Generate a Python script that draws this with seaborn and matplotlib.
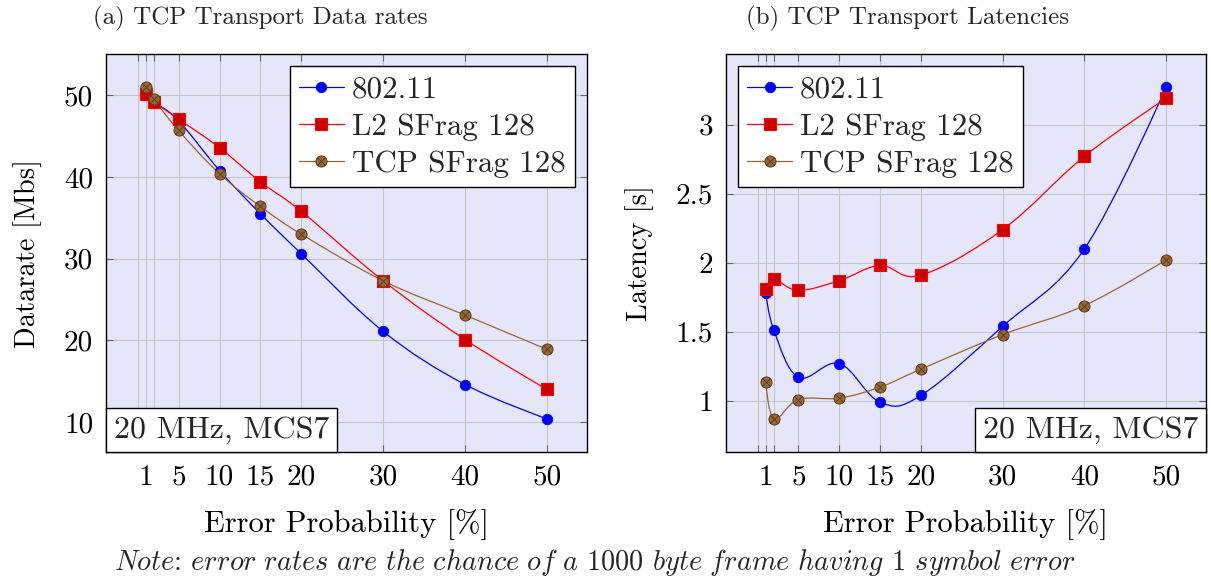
import numpy as np
import pandas as pd
import matplotlib
matplotlib.use('Agg')
import matplotlib.pyplot as plt
import seaborn as sns
from matplotlib.path import Path
from matplotlib.patches import PathPatch
from matplotlib.lines import Line2D
from matplotlib.offsetbox import AnchoredText

# ---------------- data ----------------
error_prob = [1, 2, 5, 10, 15, 20, 30, 40, 50]
series_names = ['802.11', 'L2 SFrag 128', 'TCP SFrag 128']

rate_80211 = [50.1, 49.2, 46.9, 40.8, 35.5, 30.6, 21.1, 14.6, 10.4]
rate_l2 = [50.2, 49.2, 47.1, 43.6, 39.4, 35.8, 27.3, 20.1, 14.0]
rate_tcp = [51.0, 49.5, 45.7, 40.4, 36.4, 33.0, 27.3, 23.1, 18.9]

lat_80211 = [1.78, 1.51, 1.17, 1.27, 0.99, 1.04, 1.54, 2.10, 3.27]
lat_l2 = [1.81, 1.88, 1.80, 1.87, 1.98, 1.91, 2.24, 2.77, 3.19]
lat_tcp = [1.14, 0.87, 1.01, 1.02, 1.10, 1.23, 1.48, 1.69, 2.02]

x_ticks = [0, 1, 2, 5, 10, 15, 20, 30, 40, 50]
x_tick_labels = ['', '1', '', '5', '10', '15', '20', '30', '40', '50']
rate_ticks = [10, 20, 30, 40, 50]
rate_tick_labels = ['10', '20', '30', '40', '50']
lat_ticks = [1, 1.5, 2, 2.5, 3]
lat_tick_labels = ['1', '1.5', '2', '2.5', '3']

titles = ['(a) TCP Transport Data rates', '(b) TCP Transport Latencies']
ylabels = ['Datarate [Mbs]', 'Latency [s]']
xlabel = 'Error Probability [%]'
box_text = '20 MHz, MCS7'

# ---------------- style ----------------
sns.set_theme(style='whitegrid')
plt.rcParams['font.family'] = ['cmr10', 'DejaVu Serif']
plt.rcParams['mathtext.fontset'] = 'cm'
plt.rcParams['axes.formatter.use_mathtext'] = True
plt.rcParams['axes.unicode_minus'] = False

BG = '#E6E6FA'
BLUE = '#0000ff'
RED = '#ff0000'
RED_FILL = '#cc0000'
BROWN = '#996633'
BROWN_EDGE = '#5e3f1f'

circ = Path.unit_circle()
cross = Path([(-0.707, -0.707), (0.707, 0.707), (-0.707, 0.707), (0.707, -0.707)],
             [Path.MOVETO, Path.LINETO, Path.MOVETO, Path.LINETO])
otimes = Path.make_compound_path(circ, cross)

styles = [
    dict(color=BLUE, marker='o', mfc=BLUE, mec=BLUE, ms=7.5, mew=0.6),
    dict(color=RED, marker='s', mfc=RED_FILL, mec=RED, ms=8.0, mew=0.8),
    dict(color=BROWN, marker=otimes, mfc=BROWN, mec=BROWN_EDGE, ms=8.0, mew=0.7),
]


def smooth_patch(xs, ys, color, f=0.18):
    pts = np.column_stack([xs, ys]).astype(float)
    n = len(pts)
    verts = [pts[0]]
    codes = [Path.MOVETO]
    for i in range(n - 1):
        p0, p1 = pts[i], pts[i + 1]
        t0 = np.zeros(2) if i == 0 else pts[i + 1] - pts[i - 1]
        t1 = np.zeros(2) if i + 1 == n - 1 else pts[i + 2] - pts[i]
        verts += [p0 + f * t0, p1 - f * t1, p1]
        codes += [Path.CURVE4] * 3
    return PathPatch(Path(verts, codes), facecolor='none', edgecolor=color,
                     lw=0.9, zorder=3)


fig = plt.figure(figsize=(12.11, 5.81), dpi=100)
ax1 = fig.add_axes([0.0873, 0.222, 0.3975, 0.685])
ax2 = fig.add_axes([0.5993, 0.222, 0.3967, 0.685])

datasets = [
    (ax1, [rate_80211, rate_l2, rate_tcp], rate_ticks, rate_tick_labels, 'upper right', 'lower left'),
    (ax2, [lat_80211, lat_l2, lat_tcp], lat_ticks, lat_tick_labels, 'upper left', 'lower right'),
]

for k, (ax, ys_list, yt, ytl, legloc, boxloc) in enumerate(datasets):
    ax.set_facecolor(BG)
    allv = np.concatenate([np.array(v) for v in ys_list])
    for name, ys, st in zip(series_names, ys_list, styles):
        df = pd.DataFrame({'x': error_prob, 'y': ys})
        ax.add_patch(smooth_patch(df['x'], df['y'], st['color']))
        sns.lineplot(data=df, x='x', y='y', ax=ax, linestyle='', marker=st['marker'],
                     markerfacecolor=st['mfc'], markeredgecolor=st['mec'],
                     markersize=st['ms'], markeredgewidth=st['mew'], zorder=4,
                     color=st['color'])
    xr = max(error_prob) - min(error_prob)
    ax.set_xlim(min(error_prob) - 0.1 * xr, max(error_prob) + 0.1 * xr)
    yr = allv.max() - allv.min()
    ax.set_ylim(allv.min() - 0.1 * yr, allv.max() + 0.1 * yr)
    ax.set_xticks(x_ticks)
    ax.set_xticklabels(x_tick_labels)
    ax.set_yticks(yt)
    ax.set_yticklabels(ytl)
    ax.grid(True, color='#c4c4c4', lw=0.8)
    ax.tick_params(direction='in', length=5, width=0.8, color='#666666',
                   top=True, right=True, bottom=True, left=True,
                   labelsize=21, pad=9, labelcolor='black')
    for s in ax.spines.values():
        s.set_edgecolor('black')
        s.set_linewidth(1.0)
    ax.set_xlabel(xlabel, fontsize=22, labelpad=13, color='black')
    ax.set_ylabel(ylabels[k], fontsize=20.5, labelpad=16, color='black')

    handles = [Line2D([0], [0], color=st['color'], lw=0.9, marker=st['marker'],
                      markerfacecolor=st['mfc'], markeredgecolor=st['mec'],
                      markersize=st['ms'], markeredgewidth=st['mew'])
               for st in styles]
    leg = ax.legend(handles, series_names, loc=legloc, fontsize=22.3, frameon=True,
                    fancybox=False, framealpha=1, edgecolor='black',
                    handlelength=1.45, handletextpad=0.25, labelspacing=0.3,
                    borderpad=0.3, borderaxespad=0.4)
    leg.get_frame().set_linewidth(1.0)
    leg.set_zorder(6)

    at = AnchoredText(box_text, loc=boxloc, frameon=True, pad=0.25, borderpad=0.0,
                      prop=dict(size=23))
    at.patch.set_boxstyle('square,pad=0')
    at.patch.set_facecolor('white')
    at.patch.set_edgecolor('black')
    at.patch.set_linewidth(1.0)
    at.set_zorder(7)
    ax.add_artist(at)

fig.text(260 / 1211, 1 - 18 / 581, titles[0], ha='center', va='center', fontsize=18)
fig.text(908 / 1211, 1 - 18 / 581, titles[1], ha='center', va='center', fontsize=18)

note = (r'$\mathit{Note}$: $\mathit{error\ rates\ are\ the\ chance\ of\ a}$ 1000 '
        r'$\mathit{byte\ frame\ having}$ 1 $\mathit{symbol\ error}$')
fig.text(595 / 1211, 1 - 563 / 581, note, ha='center', va='center', fontsize=20.3)

fig.savefig('out.png', dpi=100)
